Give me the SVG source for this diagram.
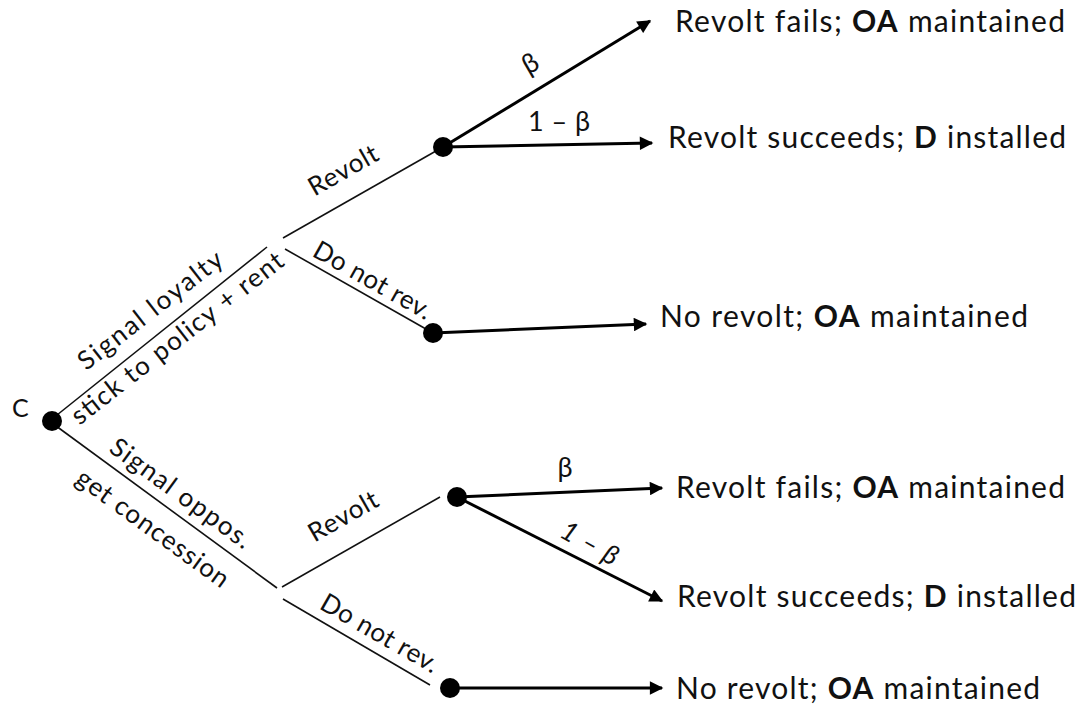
<svg xmlns="http://www.w3.org/2000/svg" width="1084" height="711" viewBox="0 0 1084 711">
<defs>
<marker id="ah" viewBox="0 0 10 10" refX="9" refY="5" markerWidth="5" markerHeight="4.5" orient="auto" markerUnits="strokeWidth">
<path d="M0,0 L10,5 L0,10 Z" fill="#000"/>
</marker>
<style>
.thin{stroke:#111;stroke-width:1.6;fill:none}
.arr{stroke:#000;stroke-width:3;fill:none;marker-end:url(#ah)}
.dot{fill:#000}
text{font-family:Lato,"Open Sans","Liberation Sans",sans-serif;fill:#111}
.out{font-size:30px}
.lbl{font-size:26px}
.g{font-size:27px}
.b{font-weight:bold}
</style>
</defs>
<rect width="1084" height="711" fill="#fff"/>
<g id="connectors">
<line class="thin" x1="52" y1="419" x2="267" y2="247"/>
<line class="thin" x1="52" y1="423" x2="277" y2="588"/>
<line class="thin" x1="283" y1="238" x2="443" y2="147"/>
<line class="thin" x1="285" y1="249" x2="433" y2="333"/>
<line class="thin" x1="282" y1="587" x2="440" y2="497"/>
<line class="thin" x1="283" y1="599" x2="430" y2="685"/>
<line class="arr" x1="443" y1="147" x2="650" y2="21"/>
<line class="arr" x1="443" y1="147" x2="652" y2="143"/>
<line class="arr" x1="433" y1="333" x2="646" y2="324"/>
<line class="arr" x1="457" y1="497" x2="662" y2="488"/>
<line class="arr" x1="457" y1="497" x2="662" y2="601"/>
<line class="arr" x1="450" y1="688" x2="662" y2="688"/>
</g>
<g id="edge-labels">
<text class="lbl" text-anchor="middle" transform="translate(150,310) rotate(-38)" dy="0.35em" textLength="176">Signal loyalty</text>
<text class="lbl" text-anchor="middle" transform="translate(177,338) rotate(-38)" dy="0.35em" textLength="262">stick to policy + rent</text>
<text class="lbl" text-anchor="middle" transform="translate(181,493) rotate(36)" dy="0.35em" textLength="168">Signal oppos.</text>
<text class="lbl" text-anchor="middle" transform="translate(153,528) rotate(36)" dy="0.35em" textLength="182">get concession</text>
<text class="lbl" text-anchor="middle" transform="translate(343,170) rotate(-29.6)" dy="0.35em" textLength="76">Revolt</text>
<text class="lbl" text-anchor="middle" transform="translate(373,280) rotate(29.5)" dy="0.35em" textLength="132">Do not rev.</text>
<text class="lbl" text-anchor="middle" transform="translate(343,516) rotate(-29.7)" dy="0.35em" textLength="76">Revolt</text>
<text class="lbl" text-anchor="middle" transform="translate(380,633) rotate(30)" dy="0.35em" textLength="132">Do not rev.</text>
<text class="g" text-anchor="middle" transform="translate(530,63) rotate(-30)" dy="0.35em">β</text>
<text class="g" x="559" y="131" text-anchor="middle" textLength="62">1 – β</text>
<text class="g" x="565" y="477" text-anchor="middle">β</text>
<text class="g" text-anchor="middle" font-style="italic" transform="translate(590,543) rotate(29)" dy="0.35em" textLength="62">1 – β</text>
</g>
<g id="node-root">
<circle class="dot" cx="52" cy="421" r="10"/>
<text x="12" y="417" font-size="25">C</text>
</g>
<g id="node-revolt-1"><circle class="dot" cx="443" cy="147" r="10"/></g>
<g id="node-norev-1"><circle class="dot" cx="433" cy="333" r="10"/></g>
<g id="node-revolt-2"><circle class="dot" cx="457" cy="497" r="10"/></g>
<g id="node-norev-2"><circle class="dot" cx="450" cy="688" r="10"/></g>
<g id="outcome-1"><text class="out" x="675" y="32" textLength="390">Revolt fails; <tspan class="b">OA</tspan> maintained</text></g>
<g id="outcome-2"><text class="out" x="668" y="148" textLength="398">Revolt succeeds; <tspan class="b">D</tspan> installed</text></g>
<g id="outcome-3"><text class="out" x="660" y="327" textLength="368">No revolt; <tspan class="b">OA</tspan> maintained</text></g>
<g id="outcome-4"><text class="out" x="676" y="498" textLength="389">Revolt fails; <tspan class="b">OA</tspan> maintained</text></g>
<g id="outcome-5"><text class="out" x="677" y="607" textLength="399">Revolt succeeds; <tspan class="b">D</tspan> installed</text></g>
<g id="outcome-6"><text class="out" x="676" y="699" textLength="364">No revolt; <tspan class="b">OA</tspan> maintained</text></g>
</svg>
